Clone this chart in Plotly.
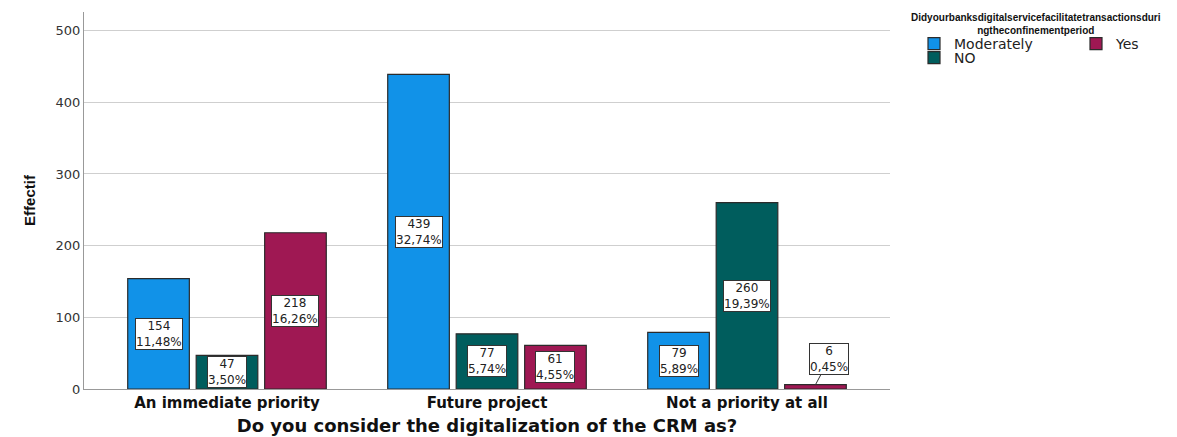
import plotly.graph_objects as go

categories = ["An immediate priority", "Future project", "Not a priority at all"]
series_names = ["Moderately", "NO", "Yes"]
moderately = [154, 439, 79]
no_vals = [47, 77, 260]
yes_vals = [218, 61, 6]
colors = ["#1192E8", "#005D5D", "#9F1853"]
legend_ids = ["legend", "legend3", "legend2"]
y_ticks = [0, 100, 200, 300, 400, 500]

series = [moderately, no_vals, yes_vals]
total = sum(sum(s) for s in series)

plot_l, plot_r, plot_t, plot_b = 84, 890, 12, 389
pw, ph = plot_r - plot_l, plot_b - plot_t

def px_x(p):
    return (p - plot_l) / pw

def px_y(p):
    return (plot_b - p) / ph

fig = go.Figure()
for name, vals, col, lg in zip(series_names, series, colors, legend_ids):
    fig.add_trace(go.Bar(
        name=name, x=categories, y=vals,
        marker=dict(color=col, line=dict(color="#2b2b2b", width=1.2)),
        legend=lg, hoverinfo="skip",
    ))

bargap = 0.21
slot = (1 - bargap) / 3
annotations = []
for si, vals in enumerate(series):
    for ci, v in enumerate(vals):
        pct = f"{v / total * 100:.2f}".replace(".", ",") + "%"
        xpos = ci + (si - 1) * slot
        common = dict(
            x=xpos, xref="x", yref="y",
            text=f"{v}<br>{pct}",
            font=dict(family="DejaVu Sans", size=12, color="#222"),
            bgcolor="white", bordercolor="#333", borderwidth=1, borderpad=0,
        )
        if v < 20:
            annotations.append(dict(
                y=v, showarrow=True, arrowhead=0, arrowwidth=1, arrowcolor="#333",
                ax=14, ay=-26, **common))
        else:
            annotations.append(dict(y=v / 2, showarrow=False, yanchor="middle", **common))

annotations.append(dict(
    x=px_x(1036), y=px_y(24), xref="paper", yref="paper", showarrow=False,
    xanchor="center", yanchor="middle",
    text="<b>Didyourbanksdigitalservicefacilitatetransactionsduri<br>ngtheconfinementperiod</b>",
    font=dict(family="Liberation Sans Narrow, Liberation Sans", size=10, color="#111"),
))

leg_font = dict(family="DejaVu Sans", size=14, color="#222")

def leg(xp, yp):
    return dict(
        x=px_x(xp), y=px_y(yp), xanchor="left", yanchor="middle",
        orientation="v", font=leg_font, itemwidth=30,
        bgcolor="rgba(0,0,0,0)", borderwidth=0,
    )

fig.update_layout(
    width=1177, height=437,
    margin=dict(l=plot_l, r=1177 - plot_r, t=plot_t, b=437 - plot_b, autoexpand=False),
    paper_bgcolor="white", plot_bgcolor="white",
    barmode="group", bargap=bargap, bargroupgap=0.1,
    font=dict(family="DejaVu Sans", color="#222"),
    xaxis=dict(
        range=[-0.55, 2.55], showgrid=False, showline=True, linecolor="#999", linewidth=1,
        ticks="", tickfont=dict(family="DejaVu Sans", size=15, color="#111", weight="bold"),
        title=dict(text="<b>Do you consider the digitalization of the CRM as?</b>",
                   font=dict(family="DejaVu Sans", size=18, color="#111"), standoff=8),
        automargin=False,
    ),
    yaxis=dict(
        range=[0, 526], tickvals=y_ticks, showgrid=True, gridcolor="#cfcfcf", gridwidth=1,
        showline=True, linecolor="#999", linewidth=1, ticks="", zeroline=False,
        tickfont=dict(family="DejaVu Sans", size=13, color="#333"),
        title=dict(text="<b>Effectif</b>",
                   font=dict(family="Liberation Sans Narrow, Liberation Sans", size=15, color="#111"),
                   standoff=16),
        automargin=False,
    ),
    legend=leg(914, 44),
    legend3=leg(914, 58),
    legend2=leg(1076, 44),
    annotations=annotations,
    showlegend=True,
)

fig.write_html("out.html")
